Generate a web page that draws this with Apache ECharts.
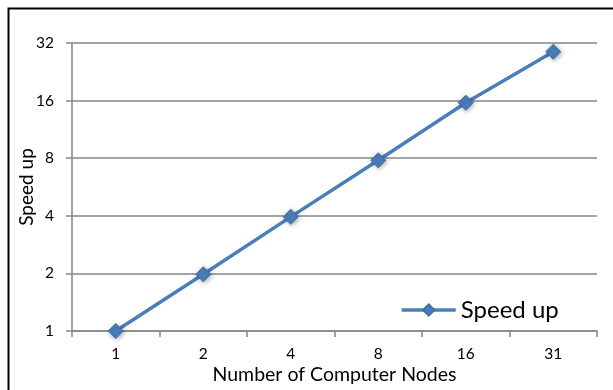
<!DOCTYPE html>
<html>
<head>
<meta charset="utf-8">
<script src="https://cdn.jsdelivr.net/npm/echarts@6/dist/echarts.min.js"></script>
<style>
html,body{margin:0;padding:0;background:#fff;}
#chart{width:613px;height:390px;}
</style>
</head>
<body>
<div id="chart"></div>
<script>
var categories = ['1', '2', '4', '8', '16', '31'];
var speedUp = [1, 1.98, 3.95, 7.8, 15.6, 28.8];
var yTicks = [1, 2, 4, 8, 16, 32];

var FONT = 'Lato';
var chart = echarts.init(document.getElementById('chart'), null, {renderer: 'canvas'});
chart.setOption({
  animation: false,
  backgroundColor: '#ffffff',
  textStyle: {fontFamily: FONT},
  graphic: [{
    type: 'rect',
    shape: {x: 8.5, y: 8.5, width: 700, height: 500},
    style: {fill: 'none', stroke: '#000', lineWidth: 2},
    silent: true
  }],
  grid: {left: 72, right: 16, top: 43, bottom: 59, containLabel: false},
  legend: {
    left: 395, top: 293,
    itemWidth: 54, itemHeight: 14, itemGap: 4,
    lineStyle: {width: 3.5},
    textStyle: {fontFamily: FONT, fontSize: 24, color: '#000'},
    data: ['Speed up']
  },
  xAxis: {
    type: 'category',
    data: categories,
    boundaryGap: true,
    name: 'Number of Computer Nodes',
    nameLocation: 'middle',
    nameGap: 34,
    nameMoveOverlap: false,
    nameTextStyle: {fontFamily: FONT, fontSize: 19.5, color: '#000'},
    axisLine: {lineStyle: {color: '#868686', width: 1.5}},
    axisTick: {show: true, length: 6, lineStyle: {color: '#868686', width: 1.5}},
    axisLabel: {margin: 15, fontFamily: FONT, fontSize: 15.5, color: '#000'},
    splitLine: {show: false}
  },
  yAxis: {
    type: 'log',
    logBase: 2,
    min: yTicks[0],
    max: yTicks[yTicks.length - 1],
    name: 'Speed up',
    nameLocation: 'middle',
    nameGap: 36,
    nameMoveOverlap: false,
    nameTextStyle: {fontFamily: FONT, fontSize: 19, color: '#000'},
    axisLine: {show: true, lineStyle: {color: '#868686', width: 1.5}},
    axisTick: {show: true, length: 6, lineStyle: {color: '#868686', width: 1.5}},
    axisLabel: {margin: 18, fontFamily: FONT, fontSize: 15.5, color: '#000'},
    splitLine: {show: true, lineStyle: {color: '#868686', width: 1.5}},
    minorTick: {show: false}
  },
  series: [{
    name: 'Speed up',
    type: 'line',
    data: speedUp,
    symbol: 'diamond',
    symbolSize: 15,
    showAllSymbol: true,
    lineStyle: {color: '#4a7ebb', width: 3.5},
    itemStyle: {color: '#4a7ebb', borderColor: '#3f6ea6', borderWidth: 1,
      shadowBlur: 5, shadowColor: 'rgba(0,0,0,0.35)', shadowOffsetX: 1, shadowOffsetY: 1}
  }]
});
</script>
</body>
</html>
